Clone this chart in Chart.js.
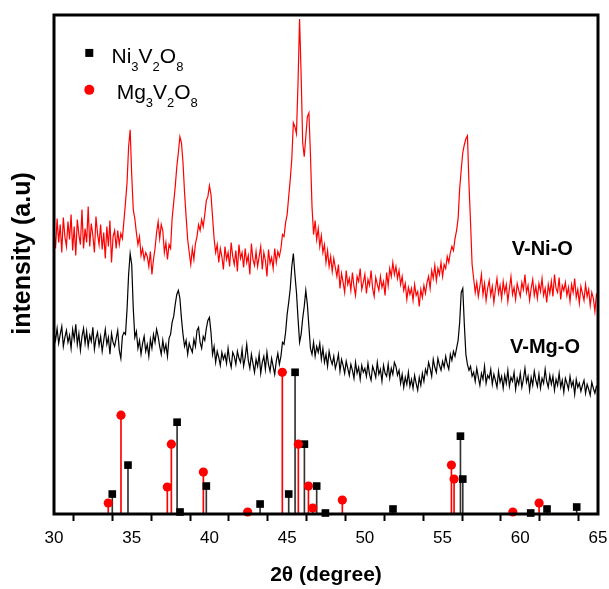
<!DOCTYPE html>
<html>
<head>
<meta charset="utf-8">
<script src="https://cdn.jsdelivr.net/npm/chart.js@4.4.0/dist/chart.umd.min.js"></script>
<style>
    html, body { margin: 0; padding: 0; background: #fff; }
    #wrap { width: 609px; height: 589px; position: relative; }
</style>
</head>
<body>
<div id="wrap"><canvas id="xrdChart"></canvas></div>
<script>
// scan grid: 30 -> 65 deg, step 0.1 (one row per degree)
var scanStart = 30;
var scanStep = 0.1;

// V-Ni-O pattern (red)
var intensityNiO = [
    284, 266, 296, 272, 290, 262, 297, 278, 268, 293,
    275, 300, 264, 288, 259, 295, 280, 270, 305, 266,
    286, 272, 308, 268, 291, 279, 262, 298, 281, 270,
    290, 265, 282, 256, 288, 268, 294, 252, 278, 284,
    266, 284, 270, 281, 276, 294, 312, 332, 368, 385,
    340, 305, 296, 282, 270, 278, 259, 266, 255, 262,
    258, 248, 263, 240, 255, 266, 282, 293, 276, 290,
    284, 262, 272, 255, 270, 266, 296, 312, 328, 348,
    362, 378, 372, 352, 322, 298, 275, 262, 250, 266,
    255, 271, 278, 290, 284, 295, 288, 300, 314, 318,
    329, 320, 298, 276, 262, 270, 252, 266, 258, 245,
    268, 255, 262, 248, 272, 258, 250, 264, 243, 270,
    256, 262, 247, 266, 252, 259, 240, 271, 255, 249,
    263, 248, 258, 268, 245, 262, 254, 238, 265, 251,
    257, 246, 266, 252, 263, 258, 266, 280, 278, 292,
    300, 318, 335, 356, 392, 388, 381, 432, 496, 440,
    372, 358, 378, 398, 402, 360, 308, 280, 294, 275,
    286, 268, 279, 262, 270, 252, 264, 248, 258, 243,
    256, 247, 238, 250, 226, 241, 232, 222, 244, 230,
    236, 224, 242, 228, 219, 238, 233, 246, 225, 232,
    240, 221, 235, 229, 244, 226, 218, 237, 230, 224,
    238, 227, 233, 219, 242, 229, 246, 238, 252, 240,
    248, 236, 244, 230, 238, 224, 231, 215, 227, 220,
    226, 214, 230, 219, 223, 208, 225, 217, 229, 221,
    232, 238, 226, 244, 236, 249, 234, 246, 240, 252,
    238, 250, 246, 258, 252, 262, 268, 264, 276, 284,
    296, 326, 345, 362, 370, 376, 379, 330, 292, 250,
    236, 222, 232, 218, 228, 240, 220, 231, 214, 226,
    234, 219, 228, 212, 225, 236, 221, 229, 216, 233,
    222, 230, 213, 226, 238, 220, 227, 215, 231, 224,
    218, 232, 225, 240, 222, 229, 214, 226, 235, 219,
    228, 216, 231, 223, 236, 219, 226, 212, 230, 221,
    233, 218, 240, 226, 222, 237, 215, 229, 224, 232,
    219, 227, 213, 230, 222, 236, 217, 225, 211, 228,
    221, 214, 230, 218, 225, 209, 222, 216, 203, 220,
    218
];

// V-Mg-O pattern (black)
var intensityMgO = [
    182, 174, 186, 171, 180, 188, 168, 177, 184, 172,
    179, 166, 185, 175, 190, 170, 181, 164, 178, 186,
    171, 183, 168, 179, 173, 187, 165, 176, 182, 169,
    178, 163, 174, 185, 170, 177, 160, 181, 172, 168,
    176, 184, 164, 156, 178, 182, 180, 205, 240, 261,
    250, 206, 177, 183, 166, 174, 160, 171, 178, 163,
    170, 158, 175, 166, 180, 172, 185, 178, 168, 160,
    174, 163, 170, 158, 176, 180, 192, 198, 210, 220,
    224, 216, 196, 180, 168, 174, 160, 171, 166, 162,
    175, 168, 184, 187, 172, 166, 178, 174, 186, 194,
    197, 182, 160, 168, 152, 163, 157, 149, 162, 155,
    160, 151, 166, 154, 147, 162, 158, 150, 163, 156,
    152, 165, 148, 157, 170, 154, 146, 160, 151, 142,
    155, 148, 160, 141, 152, 158, 145, 162, 150, 143,
    156, 148, 140, 153, 161, 150, 158, 172, 170, 182,
    200, 212, 226, 248, 261, 240, 222, 196, 172, 180,
    196, 208, 224, 210, 188, 166, 160, 172, 158, 168,
    162, 171, 155, 166, 152, 160, 148, 163, 155, 150,
    158, 146, 152, 160, 143, 155, 149, 141, 153, 146,
    139, 150, 144, 136, 152, 141, 147, 135, 149, 142,
    146, 138, 151, 140, 134, 148, 143, 137, 152, 140,
    145, 133, 149, 141, 138, 150, 136, 146, 140, 152,
    148, 139, 144, 131, 140, 127, 137, 130, 142, 128,
    135, 126, 139, 131, 124, 137, 129, 141, 133, 145,
    140, 152, 146, 138, 155, 147, 142, 156, 149, 144,
    153, 147, 158, 150, 145, 160, 154, 163, 158, 166,
    174, 192, 222, 226, 190, 160, 150, 144, 148, 138,
    142, 133, 146, 137, 129, 141, 135, 148, 131, 139,
    136, 145, 130, 140, 134, 127, 143, 132, 138, 126,
    139, 131, 144, 128, 137, 133, 142, 125, 136, 130,
    141, 127, 135, 146, 132, 138, 124, 137, 129, 143,
    134, 128, 140, 126, 136, 131, 145, 133, 127, 139,
    130, 138, 124, 135, 129, 141, 127, 134, 122, 136,
    131, 125, 138, 128, 133, 120, 135, 127, 131, 123,
    129, 134, 121, 130, 125, 119, 132, 126, 121, 128,
    127
];

// reference lines Ni3V2O8 (black squares)
var niRefPos = [33.75, 34.76, 37.92, 38.11, 39.80, 43.26, 45.10, 45.51, 46.11, 46.90, 47.46, 51.81, 56.15, 56.30, 60.67, 61.72, 63.63];
var niRefInt = [20, 49, 92, 2, 28, 10, 20, 142, 70, 28, 1, 5, 78, 35, 1, 5, 7];

// reference lines Mg3V2O8 (red circles)
var mgRefPos = [33.49, 34.31, 37.29, 37.55, 39.61, 42.46, 44.69, 45.72, 46.37, 46.65, 48.55, 55.57, 55.74, 59.52, 61.21];
var mgRefInt = [11, 99, 27, 70, 42, 2, 142, 70, 28, 6, 14, 49, 35, 2, 11];

var xTickLabels = [30, 35, 40, 45, 50, 55, 60, 65];
var legendNames = ["Ni3V2O8", "Mg3V2O8"];
var sampleNames = ["V-Ni-O", "V-Mg-O"];
var yTitle = "intensity (a.u)";

var FONT = '"Liberation Sans", Arial, sans-serif';

function scanPoints(arr) {
    return arr.map(function (v, i) {
        return { x: +(scanStart + i * scanStep).toFixed(1), y: v };
    });
}

function refPoints(pos, val) {
    return pos.map(function (p, i) {
        return { x: p, y: val[i] };
    });
}

// draws chemical formula, digits as subscripts
function drawFormula(ctx, text, x, y) {
    for (var i = 0; i < text.length; i++) {
        var ch = text[i];
        if (/[0-9]/.test(ch)) {
            ctx.font = '13px ' + FONT;
            ctx.fillText(ch, x, y + 8);
        } else {
            ctx.font = '21px ' + FONT;
            ctx.fillText(ch, x, y);
        }
        x += ctx.measureText(ch).width;
    }
}

var framePlugin = {
    id: 'frame',
    afterDatasetsDraw: function (chart) {
        var a = chart.chartArea, ctx = chart.ctx;
        ctx.save();
        ctx.strokeStyle = '#000';
        ctx.lineWidth = 3;
        ctx.strokeRect(a.left, a.top, a.right - a.left, a.bottom - a.top);
        ctx.restore();
    }
};

var textPlugin = {
    id: 'texts',
    afterDraw: function (chart) {
        var ctx = chart.ctx, xs = chart.scales.x, ys = chart.scales.y;
        ctx.save();
        ctx.fillStyle = '#000';
        ctx.textBaseline = 'alphabetic';
        ctx.textAlign = 'left';
        ctx.font = 'bold 20px ' + FONT;
        ctx.fillText(sampleNames[0], xs.getPixelForValue(59.45), ys.getPixelForValue(260));
        ctx.fillText(sampleNames[1], xs.getPixelForValue(59.34), ys.getPixelForValue(161));

        // y axis title, a bit above the middle like the original
        ctx.save();
        ctx.translate(23, ys.getPixelForValue(261));
        ctx.rotate(-Math.PI / 2);
        ctx.textAlign = 'center';
        ctx.textBaseline = 'middle';
        ctx.font = 'bold 25px ' + FONT;
        ctx.fillText(yTitle, 0, 0);
        ctx.restore();

        // legend
        var sx = xs.getPixelForValue(32.27);
        var sy = ys.getPixelForValue(462);
        ctx.fillStyle = '#000';
        ctx.fillRect(sx - 4, sy - 4, 8, 8);
        drawFormula(ctx, legendNames[0], xs.getPixelForValue(33.7), ys.getPixelForValue(452));

        var cy = ys.getPixelForValue(425);
        ctx.fillStyle = '#ff0000';
        ctx.beginPath();
        ctx.arc(sx, cy, 5, 0, Math.PI * 2);
        ctx.fill();
        ctx.fillStyle = '#000';
        drawFormula(ctx, legendNames[1], xs.getPixelForValue(34.03), ys.getPixelForValue(416));
        ctx.restore();
    }
};

var ctx = document.getElementById("xrdChart").getContext("2d");

var xrdChart = new Chart(ctx, {
    type: "line",
    data: {
        datasets: [
            {
                type: "scatter",
                data: refPoints(mgRefPos, mgRefInt),
                pointStyle: "circle",
                pointRadius: 4.6,
                backgroundColor: "#ff0000",
                borderColor: "#ff0000",
                borderWidth: 0,
                clip: false
            },
            {
                type: "scatter",
                data: refPoints(niRefPos, niRefInt),
                pointStyle: "rect",
                pointRadius: 5.4,
                backgroundColor: "#000",
                borderColor: "#000",
                borderWidth: 0,
                clip: false
            },
            {
                type: "bar",
                data: refPoints(mgRefPos, mgRefInt),
                backgroundColor: "#ff0000",
                barThickness: 1,
                grouped: false
            },
            {
                type: "bar",
                data: refPoints(niRefPos, niRefInt),
                backgroundColor: "#333",
                barThickness: 1,
                grouped: false
            },
            {
                label: "V-Ni-O",
                data: scanPoints(intensityNiO),
                borderColor: "#ff0000",
                borderWidth: 1.2,
                pointRadius: 0,
                fill: false,
                tension: 0
            },
            {
                label: "V-Mg-O",
                data: scanPoints(intensityMgO),
                borderColor: "#000",
                borderWidth: 1.2,
                pointRadius: 0,
                fill: false,
                tension: 0
            }
        ]
    },
    options: {
        responsive: true,
        maintainAspectRatio: false,
        animation: false,
        layout: { padding: { top: 15, right: 11, left: 0, bottom: 0 } },
        plugins: {
            legend: { display: false },
            tooltip: { enabled: false }
        },
        scales: {
            x: {
                type: "linear",
                min: 30,
                max: 65,
                offset: false,
                afterFit: function (axis) {
                    axis.height = 75;
                    axis.paddingLeft = 0;
                    axis.paddingRight = 0;
                },
                ticks: {
                    stepSize: 2.5,
                    autoSkip: false,
                    maxRotation: 0,
                    padding: 7,
                    color: "#000",
                    font: { family: FONT, size: 17 },
                    callback: function (v) {
                        return xTickLabels.indexOf(v) >= 0 ? String(v) : "";
                    }
                },
                grid: {
                    display: true,
                    drawOnChartArea: false,
                    drawTicks: true,
                    tickLength: 7,
                    tickWidth: 2,
                    tickColor: "#000"
                },
                border: { display: false },
                title: {
                    display: true,
                    text: "2θ (degree)",
                    color: "#000",
                    font: { family: FONT, size: 21, weight: "bold" },
                    padding: { top: 0, bottom: 1 }
                }
            },
            y: {
                min: 0,
                max: 500,
                afterFit: function (axis) { axis.width = 54; },
                ticks: { display: false },
                grid: { display: false },
                border: { display: false },
                title: { display: false }
            }
        }
    },
    plugins: [framePlugin, textPlugin]
});
</script>
</body>
</html>
